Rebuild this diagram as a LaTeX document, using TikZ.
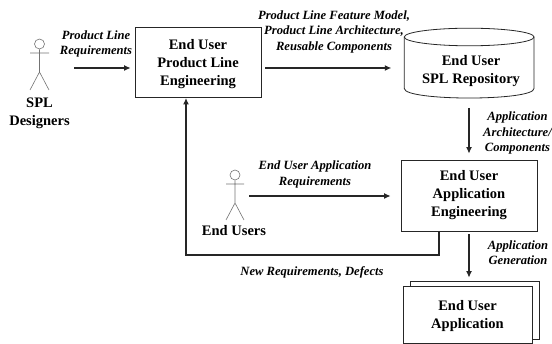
\documentclass[tikz,border=0pt]{standalone}
\usepackage{fontspec}
\setmainfont{Liberation Serif}
\usetikzlibrary{arrows.meta}
\tikzset{
  boxed/.style={draw=black!85,line width=0.8pt,fill=white,align=center,inner sep=0pt,font=\fontsize{14.5}{18}\selectfont\bfseries},
  lbl/.style={align=center,inner sep=0pt,font=\fontsize{12.6}{15.5}\selectfont\bfseries\itshape},
  titletext/.style={align=center,inner sep=0pt,font=\fontsize{14.5}{18}\selectfont\bfseries},
  flow/.style={draw=black!85,line width=1.2pt,-{Latex[length=6.5pt,width=6pt]}},
  stick/.style={draw=black!55,line width=0.6pt}
}
\begin{document}
\begin{tikzpicture}[x=1pt,y=-1pt]
\useasboundingbox (0,0) rectangle (552,344);
% boxes
\node[boxed,text depth=-1pt,minimum width=126pt,minimum height=70pt] (ple) at (198,62) {End User\\Product Line\\Engineering};
\node[boxed,minimum width=136pt,minimum height=71pt] (ae) at (469,195.5) {End User\\Application\\Engineering};
\node[boxed,minimum width=129pt,minimum height=58pt] (appback) at (474.5,310) {};
\node[boxed,text depth=-1pt,minimum width=129pt,minimum height=57.5pt] (app) at (467.5,314.75) {End User\\Application};
% repository
\coordinate (repoW) at (404.3,68);
\coordinate (repoBot) at (469,98);
\draw[draw=black!85,line width=0.8pt] (469.15,37) ellipse[x radius=64.85pt,y radius=8.8pt];
\draw[draw=black!85,line width=0.8pt] (404.3,37) -- (404.3,88.5) .. controls (404.3,101.2) and (534,101.2) .. (534,88.5) -- (534,37);
\node[titletext] (repo) at (471,71.5) {End User\\SPL Repository};
% actors
\node[stick,circle,minimum size=10pt,inner sep=0pt] (h1) at (39.5,44) {};
\coordinate (b1) at (39.5,72);
\coordinate (al1) at (30,53);
\coordinate (ar1) at (49,53);
\coordinate (ll1) at (30,90);
\coordinate (lr1) at (49,90);
\draw[stick] (h1) -- (b1) (al1) -- (ar1) (ll1) -- (b1) -- (lr1);
\node[stick,circle,minimum size=10pt,inner sep=0pt] (h2) at (235,175) {};
\coordinate (b2) at (235,203);
\coordinate (al2) at (226,184);
\coordinate (ar2) at (244,184);
\coordinate (ll2) at (226,220);
\coordinate (lr2) at (244,220);
\draw[stick] (h2) -- (b2) (al2) -- (ar2) (ll2) -- (b2) -- (lr2);
\node[titletext] (spl) at (39.5,113.5) {SPL\\Designers};
\node[titletext] (eu) at (234,231) {End Users};
% labels
\node[lbl] (l1) at (96,44) {Product Line\\Requirements};
\node[lbl] (l2) at (334,31.5) {Product Line Feature Model,\\Product Line Architecture,\\Reusable Components};
\node[lbl] (l3) at (517.5,133) {Application\\Architecture/\\Components};
\node[lbl] (l4) at (315,174.5) {End User Application\\Requirements};
\node[lbl] (l5) at (518,252.5) {Application\\Generation};
\node[lbl] (l6) at (312,272) {New Requirements, Defects};
% connector ends
\coordinate (s1) at (74,68);
\coordinate (e1) at (ple.west |- s1);
\coordinate (s2) at (ple.east |- s1);
\coordinate (e2) at (repoW);
\coordinate (s4) at (249,196);
\coordinate (e4) at (ae.west |- s4);
\coordinate (fb0) at (439,231);
\coordinate (fb1) at (439,255);
\coordinate (fb2) at (186,255);
\coordinate (fb3) at (186,97);
\draw[flow,shorten >=4pt] (s1) -- (e1);
\draw[flow,shorten <=4pt,shorten >=13pt] (s2) -- (e2);
\draw[flow,shorten <=10pt,shorten >=6pt] (repoBot) -- (ae.north);
\draw[flow,shorten >=10pt] (s4) -- (e4);
\draw[flow,shorten <=3pt,shorten >=3pt] (ae.south) -- (appback.north -| ae.south);
\draw[flow,shorten >=1pt] (fb0) -- (fb1) -- (fb2) -- (fb3);
\end{tikzpicture}
\end{document}
